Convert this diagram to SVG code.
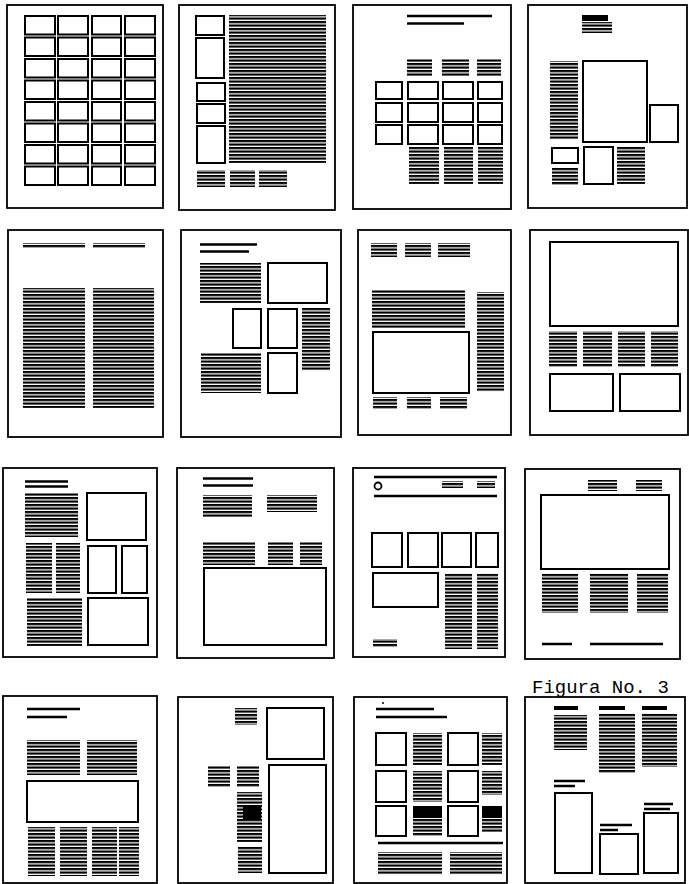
<svg xmlns="http://www.w3.org/2000/svg" xmlns:xlink="http://www.w3.org/1999/xlink" width="689" height="884" viewBox="0 0 689 884">
<defs>
<pattern id="lines" patternUnits="userSpaceOnUse" width="8" height="3.5"><rect width="8" height="2.2" fill="#000"/></pattern>
<g id="gridrow">
<rect class="bx" x="25" y="0" width="30" height="18.5"/>
<rect class="bx" x="58" y="0" width="30" height="18.5"/>
<rect class="bx" x="92" y="0" width="29" height="18.5"/>
<rect class="bx" x="125" y="0" width="30" height="18.5"/>
</g>
</defs>
<style>
.fr{fill:none;stroke:#000;stroke-width:1.8}
.bx{fill:none;stroke:#000;stroke-width:2}
.tx{fill:url(#lines)}
.dk{fill:#000}
.rl{stroke:#000;stroke-width:2.5;fill:none}
.lbl{font-family:"Liberation Mono","DejaVu Sans Mono",monospace;font-size:19px;fill:#000}
</style>
<rect width="689" height="884" fill="#fff"/>

<g id="page-1">
<rect class="fr" x="7" y="5" width="156" height="203"/>
<use xlink:href="#gridrow" y="16"/>
<use xlink:href="#gridrow" y="37.5"/>
<use xlink:href="#gridrow" y="59"/>
<use xlink:href="#gridrow" y="80.5"/>
<use xlink:href="#gridrow" y="102"/>
<use xlink:href="#gridrow" y="123.5"/>
<use xlink:href="#gridrow" y="145"/>
<use xlink:href="#gridrow" y="166.5"/>
</g>

<g id="page-2">
<rect class="fr" x="179" y="5" width="156" height="205"/>
<rect class="bx" x="196" y="16" width="28" height="19"/>
<rect class="bx" x="196" y="38" width="28" height="40"/>
<rect class="bx" x="197" y="83" width="28" height="18"/>
<rect class="bx" x="197" y="104" width="28" height="19"/>
<rect class="bx" x="197" y="126" width="28" height="37"/>
<rect class="tx" x="229" y="15" width="97" height="148"/>
<rect class="tx" x="197" y="170" width="28" height="17"/>
<rect class="tx" x="230" y="170" width="25" height="17"/>
<rect class="tx" x="259" y="170" width="28" height="17"/>
</g>

<g id="page-3">
<rect class="fr" x="353" y="5" width="158" height="204"/>
<line class="rl" x1="407" y1="16" x2="492" y2="16"/>
<line class="rl" x1="407" y1="23.5" x2="464" y2="23.5"/>
<rect class="tx" x="407" y="59" width="25" height="17"/>
<rect class="tx" x="442" y="59" width="27" height="17"/>
<rect class="tx" x="477" y="59" width="24" height="17"/>
<rect class="bx" x="376" y="82" width="26" height="17"/>
<rect class="bx" x="408" y="82" width="30" height="17"/>
<rect class="bx" x="443" y="82" width="30" height="17"/>
<rect class="bx" x="478" y="82" width="24" height="17"/>
<rect class="bx" x="376" y="103" width="26" height="19"/>
<rect class="bx" x="408" y="103" width="30" height="19"/>
<rect class="bx" x="443" y="103" width="30" height="19"/>
<rect class="bx" x="478" y="103" width="24" height="19"/>
<rect class="bx" x="376" y="125" width="26" height="19"/>
<rect class="bx" x="408" y="125" width="30" height="19"/>
<rect class="bx" x="443" y="125" width="30" height="19"/>
<rect class="bx" x="478" y="125" width="24" height="19"/>
<rect class="tx" x="409" y="147" width="30" height="37"/>
<rect class="tx" x="444" y="147" width="29" height="37"/>
<rect class="tx" x="478" y="147" width="25" height="37"/>
</g>

<g id="page-4">
<rect class="fr" x="528" y="5" width="159" height="203"/>
<rect class="dk" x="582" y="15" width="26" height="6"/>
<rect class="tx" x="582" y="22" width="30" height="11"/>
<rect class="tx" x="550" y="61" width="28" height="79"/>
<rect class="bx" x="583" y="61" width="64" height="81"/>
<rect class="bx" x="650" y="105" width="28" height="37"/>
<rect class="bx" x="552" y="148" width="26" height="15"/>
<rect class="tx" x="552" y="168" width="26" height="17"/>
<rect class="bx" x="584" y="147" width="29" height="37"/>
<rect class="tx" x="617" y="147" width="28" height="37"/>
</g>

<g id="page-5">
<rect class="fr" x="8" y="230" width="155" height="207"/>
<rect class="tx" x="23" y="243" width="62" height="5"/>
<rect class="tx" x="93" y="243" width="52" height="5"/>
<rect class="tx" x="23" y="288" width="62" height="120"/>
<rect class="tx" x="93" y="288" width="61" height="120"/>
</g>

<g id="page-6">
<rect class="fr" x="181" y="230" width="160" height="207"/>
<line class="rl" x1="200" y1="244.5" x2="257" y2="244.5"/>
<line class="rl" x1="200" y1="251.5" x2="249" y2="251.5"/>
<rect class="tx" x="200" y="263" width="61" height="40"/>
<rect class="bx" x="268" y="263" width="59" height="40"/>
<rect class="bx" x="233" y="309" width="28" height="39"/>
<rect class="bx" x="268" y="309" width="29" height="39"/>
<rect class="tx" x="302" y="308" width="28" height="63"/>
<rect class="tx" x="201" y="353" width="60" height="40"/>
<rect class="bx" x="268" y="353" width="29" height="40"/>
</g>

<g id="page-7">
<rect class="fr" x="358" y="230" width="153" height="205"/>
<rect class="tx" x="371" y="243" width="26" height="14"/>
<rect class="tx" x="405" y="243" width="26" height="14"/>
<rect class="tx" x="438" y="243" width="32" height="14"/>
<rect class="tx" x="372" y="290" width="93" height="38"/>
<rect class="bx" x="373" y="332" width="96" height="61"/>
<rect class="tx" x="477" y="292" width="27" height="100"/>
<rect class="tx" x="373" y="397" width="24" height="12"/>
<rect class="tx" x="407" y="397" width="24" height="12"/>
<rect class="tx" x="440" y="397" width="27" height="12"/>
</g>

<g id="page-8">
<rect class="fr" x="530" y="230" width="158" height="205"/>
<rect class="bx" x="550" y="242" width="128" height="84"/>
<rect class="tx" x="549" y="331" width="28" height="36"/>
<rect class="tx" x="583" y="331" width="29" height="36"/>
<rect class="tx" x="618" y="331" width="27" height="36"/>
<rect class="tx" x="651" y="331" width="27" height="36"/>
<rect class="bx" x="550" y="374" width="63" height="37"/>
<rect class="bx" x="620" y="374" width="60" height="37"/>
</g>

<g id="page-9">
<rect class="fr" x="3" y="468" width="154" height="189"/>
<line class="rl" x1="25" y1="481.5" x2="68" y2="481.5"/>
<line class="rl" x1="25" y1="486.5" x2="68" y2="486.5"/>
<rect class="tx" x="25" y="493" width="53" height="44"/>
<rect class="bx" x="87" y="493" width="59" height="47"/>
<rect class="tx" x="26" y="543" width="26" height="50"/>
<rect class="tx" x="56" y="543" width="24" height="50"/>
<rect class="bx" x="88" y="546" width="28" height="47"/>
<rect class="bx" x="122" y="546" width="25" height="47"/>
<rect class="tx" x="27" y="598" width="55" height="48"/>
<rect class="bx" x="88" y="598" width="60" height="47"/>
</g>

<g id="page-10">
<rect class="fr" x="177" y="468" width="157" height="190"/>
<line class="rl" x1="203" y1="478.5" x2="253" y2="478.5"/>
<line class="rl" x1="203" y1="485.5" x2="253" y2="485.5"/>
<rect class="tx" x="203" y="495" width="49" height="22"/>
<rect class="tx" x="267" y="495" width="50" height="17"/>
<rect class="tx" x="203" y="542" width="52" height="23"/>
<rect class="tx" x="268" y="542" width="25" height="23"/>
<rect class="tx" x="300" y="542" width="22" height="23"/>
<rect class="bx" x="204" y="568" width="122" height="77"/>
</g>

<g id="page-11">
<rect class="fr" x="353" y="468" width="152" height="189"/>
<line class="rl" x1="374" y1="477" x2="497" y2="477" stroke-width="1.5"/>
<line class="rl" x1="374" y1="496" x2="497" y2="496" stroke-width="1.5"/>
<circle cx="378" cy="486" r="3.5" fill="none" stroke="#000" stroke-width="1.8"/>
<rect class="tx" x="442" y="481" width="21" height="7"/>
<rect class="tx" x="477" y="481" width="18" height="7"/>
<rect class="bx" x="372" y="533" width="30" height="34"/>
<rect class="bx" x="408" y="533" width="30" height="34"/>
<rect class="bx" x="442" y="533" width="29" height="34"/>
<rect class="bx" x="476" y="533" width="22" height="34"/>
<rect class="bx" x="373" y="573" width="65" height="34"/>
<rect class="tx" x="445" y="573" width="27" height="76"/>
<rect class="tx" x="477" y="573" width="21" height="76"/>
<rect class="tx" x="373" y="639" width="24" height="8"/>
</g>

<g id="page-12">
<rect class="fr" x="525" y="469" width="155" height="190"/>
<rect class="tx" x="588" y="480" width="29" height="11"/>
<rect class="tx" x="636" y="480" width="26" height="11"/>
<rect class="bx" x="541" y="495" width="128" height="74"/>
<rect class="tx" x="542" y="573" width="36" height="40"/>
<rect class="tx" x="590" y="573" width="38" height="40"/>
<rect class="tx" x="637" y="573" width="31" height="40"/>
<line class="rl" x1="542" y1="644" x2="572" y2="644" stroke-width="1.8"/>
<line class="rl" x1="590" y1="644" x2="663" y2="644" stroke-width="1.8"/>
</g>

<g id="page-13">
<rect class="fr" x="3" y="696" width="154" height="187"/>
<line class="rl" x1="27" y1="709" x2="80" y2="709"/>
<line class="rl" x1="27" y1="717" x2="67" y2="717"/>
<rect class="tx" x="27" y="740" width="53" height="35"/>
<rect class="tx" x="87" y="740" width="50" height="35"/>
<rect class="bx" x="27" y="781" width="111" height="41"/>
<rect class="tx" x="28" y="827" width="27" height="49"/>
<rect class="tx" x="60" y="827" width="27" height="49"/>
<rect class="tx" x="92" y="827" width="25" height="49"/>
<rect class="tx" x="119" y="827" width="20" height="49"/>
</g>

<g id="page-14">
<rect class="fr" x="178" y="697" width="155" height="186"/>
<rect class="tx" x="235" y="708" width="22" height="17"/>
<rect class="bx" x="267" y="708" width="57" height="51"/>
<rect class="tx" x="208" y="766" width="22" height="21"/>
<rect class="tx" x="237" y="766" width="22" height="21"/>
<rect class="tx" x="237" y="792" width="25" height="50"/>
<rect class="dk" x="243" y="806" width="18" height="13"/>
<rect class="tx" x="238" y="847" width="24" height="26"/>
<rect class="bx" x="269" y="765" width="57" height="108"/>
</g>

<g id="page-15">
<rect class="fr" x="354" y="697" width="153" height="186"/>
<circle cx="383" cy="703" r="1" fill="#000"/>
<line class="rl" x1="376" y1="709" x2="434" y2="709"/>
<line class="rl" x1="376" y1="717" x2="447" y2="717"/>
<rect class="bx" x="376" y="733" width="30" height="32"/>
<rect class="tx" x="413" y="733" width="29" height="32"/>
<rect class="bx" x="448" y="733" width="30" height="32"/>
<rect class="tx" x="482" y="733" width="20" height="32"/>
<rect class="bx" x="376" y="771" width="30" height="31"/>
<rect class="tx" x="413" y="771" width="29" height="31"/>
<rect class="bx" x="448" y="771" width="30" height="31"/>
<rect class="tx" x="482" y="771" width="20" height="24"/>
<rect class="bx" x="376" y="806" width="30" height="30"/>
<rect class="dk" x="413" y="806" width="29" height="12"/>
<rect class="tx" x="413" y="819" width="29" height="17"/>
<rect class="bx" x="448" y="806" width="30" height="30"/>
<rect class="dk" x="482" y="806" width="20" height="12"/>
<rect class="tx" x="482" y="819" width="20" height="13"/>
<line class="rl" x1="378" y1="843" x2="503" y2="843" stroke-width="1.5"/>
<rect class="tx" x="378" y="852" width="64" height="23"/>
<rect class="tx" x="450" y="852" width="52" height="23"/>
</g>

<g id="page-16">
<rect class="fr" x="525" y="697" width="160" height="186"/>
<rect class="dk" x="554" y="706" width="24" height="4"/>
<rect class="dk" x="599" y="706" width="26" height="4"/>
<rect class="dk" x="642" y="706" width="25" height="4"/>
<rect class="tx" x="554" y="715" width="33" height="35"/>
<rect class="tx" x="599" y="713" width="36" height="60"/>
<rect class="tx" x="642" y="713" width="35" height="54"/>
<line class="rl" x1="554" y1="781" x2="585" y2="781" stroke-width="3"/>
<line class="rl" x1="554" y1="786" x2="575" y2="786"/>
<rect class="bx" x="555" y="793" width="37" height="80"/>
<line class="rl" x1="644" y1="804" x2="673" y2="804" stroke-width="3"/>
<line class="rl" x1="644" y1="809" x2="670" y2="809" stroke-width="3"/>
<rect class="bx" x="644" y="813" width="34" height="60"/>
<line class="rl" x1="600" y1="825" x2="632" y2="825" stroke-width="3"/>
<line class="rl" x1="600" y1="830" x2="618" y2="830"/>
<rect class="bx" x="600" y="834" width="38" height="40"/>
</g>

<text class="lbl" x="532" y="693">Figura No. 3</text>
</svg>
